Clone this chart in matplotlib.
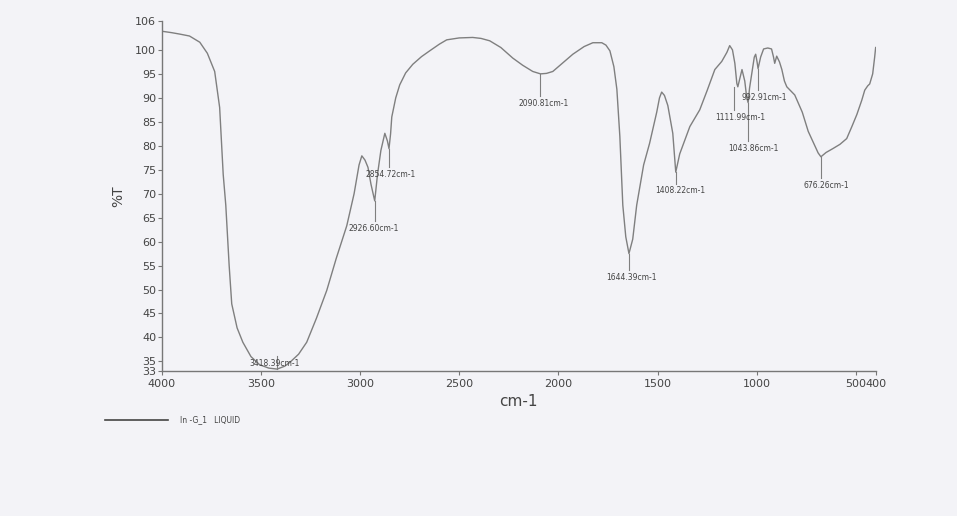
import matplotlib.pyplot as plt

# spectrum (wavenumber cm-1, %T)
wavenumber = [4000, 3950, 3909, 3860, 3808, 3770, 3733, 3708, 3690, 3677,
              3660, 3647, 3620, 3591, 3550, 3506, 3460, 3418, 3380, 3354,
              3310, 3269, 3220, 3168, 3120, 3067, 3030, 3005, 2991, 2975,
              2960, 2945, 2926, 2912, 2895, 2875, 2862, 2854, 2846, 2840,
              2820, 2800, 2770, 2734, 2690, 2649, 2600, 2563, 2500, 2432,
              2390, 2346, 2290, 2230, 2180, 2129, 2090, 2060, 2028, 1980,
              1927, 1870, 1826, 1781, 1760, 1740, 1720, 1705, 1690, 1675,
              1660, 1644, 1625, 1605, 1570, 1540, 1504, 1490, 1479, 1465,
              1448, 1423, 1408, 1388, 1337, 1287, 1250, 1221, 1211, 1176,
              1150, 1136, 1122, 1110, 1100, 1095, 1085, 1074, 1060, 1050,
              1043, 1036, 1025, 1012, 1005, 998, 993, 980, 965, 944,
              925, 915, 909, 899, 885, 873, 860, 848, 808, 770,
              740, 707, 690, 676, 650, 616, 580, 546, 520, 495,
              470, 455, 440, 430, 415, 405, 400]
transmittance = [103.9, 103.6, 103.3, 102.9, 101.6, 99.3, 95.5, 88.0, 74.0, 67.6,
                 55.0, 47.0, 42.0, 39.0, 36.0, 34.3, 33.6, 33.4, 34.0, 34.8,
                 36.5, 39.0, 44.0, 49.8, 56.5, 63.3, 70.0, 76.0, 77.9, 77.0,
                 75.5, 72.0, 68.5, 74.0, 79.0, 82.6, 81.0, 79.4, 82.5, 86.0,
                 90.0, 92.7, 95.2, 97.0, 98.6, 99.8, 101.2, 102.1, 102.5, 102.6,
                 102.4, 101.9, 100.5, 98.3, 96.8, 95.5, 95.0, 95.1, 95.5, 97.2,
                 99.1, 100.7, 101.5, 101.5, 101.0, 99.8, 96.5, 91.8, 82.0, 67.6,
                 61.0, 57.5, 60.5, 67.6, 76.0, 80.5, 87.0, 90.0, 91.2, 90.5,
                 88.4, 82.6, 74.5, 78.3, 84.0, 87.5, 91.5, 94.8, 95.9, 97.6,
                 99.5, 100.9, 100.0, 97.2, 93.0, 92.3, 94.0, 95.9, 93.5, 90.0,
                 89.0, 92.0, 95.0, 98.5, 99.1, 97.5, 96.1, 98.5, 100.2, 100.4,
                 100.2, 98.5, 97.2, 98.7, 97.5, 95.9, 93.5, 92.3, 90.6, 87.0,
                 83.0, 80.0, 78.5, 77.7, 78.6, 79.4, 80.3, 81.5, 84.0, 86.5,
                 89.5, 91.6, 92.5, 92.9, 95.0, 98.5, 100.5]

# peak labels: position, depth of the curve, where the label text sits
peak_wn = [3418.39, 2926.60, 2854.72, 2090.81, 1644.39, 1408.22, 1111.99, 1043.86, 992.91, 676.26]
peak_t = [33.4, 68.5, 79.4, 95.0, 57.5, 74.5, 92.3, 89.0, 96.1, 77.7]
label_wn = [3430, 2930, 2845, 2074, 1630, 1383, 1085, 1015, 964, 647]
label_t = [35.6, 63.7, 74.9, 89.7, 53.4, 71.5, 86.9, 80.3, 91.0, 72.7]

yticks = [33, 35, 40, 45, 50, 55, 60, 65, 70, 75, 80, 85, 90, 95, 100, 106]
xticks = [4000, 3500, 3000, 2500, 2000, 1500, 1000, 500, 400]

bg = '#f3f3f7'
fig = plt.figure(figsize=(9.57, 5.16), dpi=100, facecolor=bg)
ax = fig.add_axes([0.169, 0.281, 0.746, 0.678], facecolor=bg)

ax.plot(wavenumber, transmittance, color='#7f7f7f', lw=1.0)

for w, t, lw_, lt in zip(peak_wn, peak_t, label_wn, label_t):
    ax.plot([w, w], [t, lt + 0.6], color='#7f7f7f', lw=0.8)
    ax.text(lw_, lt, f'{w:.2f}cm-1', fontsize=5.5, color='#444444',
            ha='center', va='top')

ax.set_xlim(4000, 400)
ax.set_ylim(33, 106)
ax.set_xticks(xticks)
ax.set_yticks(yticks)
ax.tick_params(labelsize=8, labelcolor='#444444', color='#777777',
               length=3, width=0.8, pad=1)
ax.tick_params(axis='x', pad=3)
for s in ['top', 'right']:
    ax.spines[s].set_visible(False)
for s in ['left', 'bottom']:
    ax.spines[s].set_color('#777777')
    ax.spines[s].set_linewidth(1.0)

ax.set_xlabel('cm-1', fontsize=11, color='#444444', labelpad=3)
ax.set_ylabel('%T', fontsize=10, color='#444444', labelpad=7)

# legend line under the chart
fig.add_artist(plt.Line2D([105 / 957, 168 / 957], [1 - 420 / 516, 1 - 420 / 516],
                          color='#444444', lw=1.2))
fig.text(180 / 957, 1 - 420 / 516, 'In -G_1   LIQUID', fontsize=5.5,
         color='#444444', va='center')

fig.savefig('out.png', dpi=100, facecolor=bg)
